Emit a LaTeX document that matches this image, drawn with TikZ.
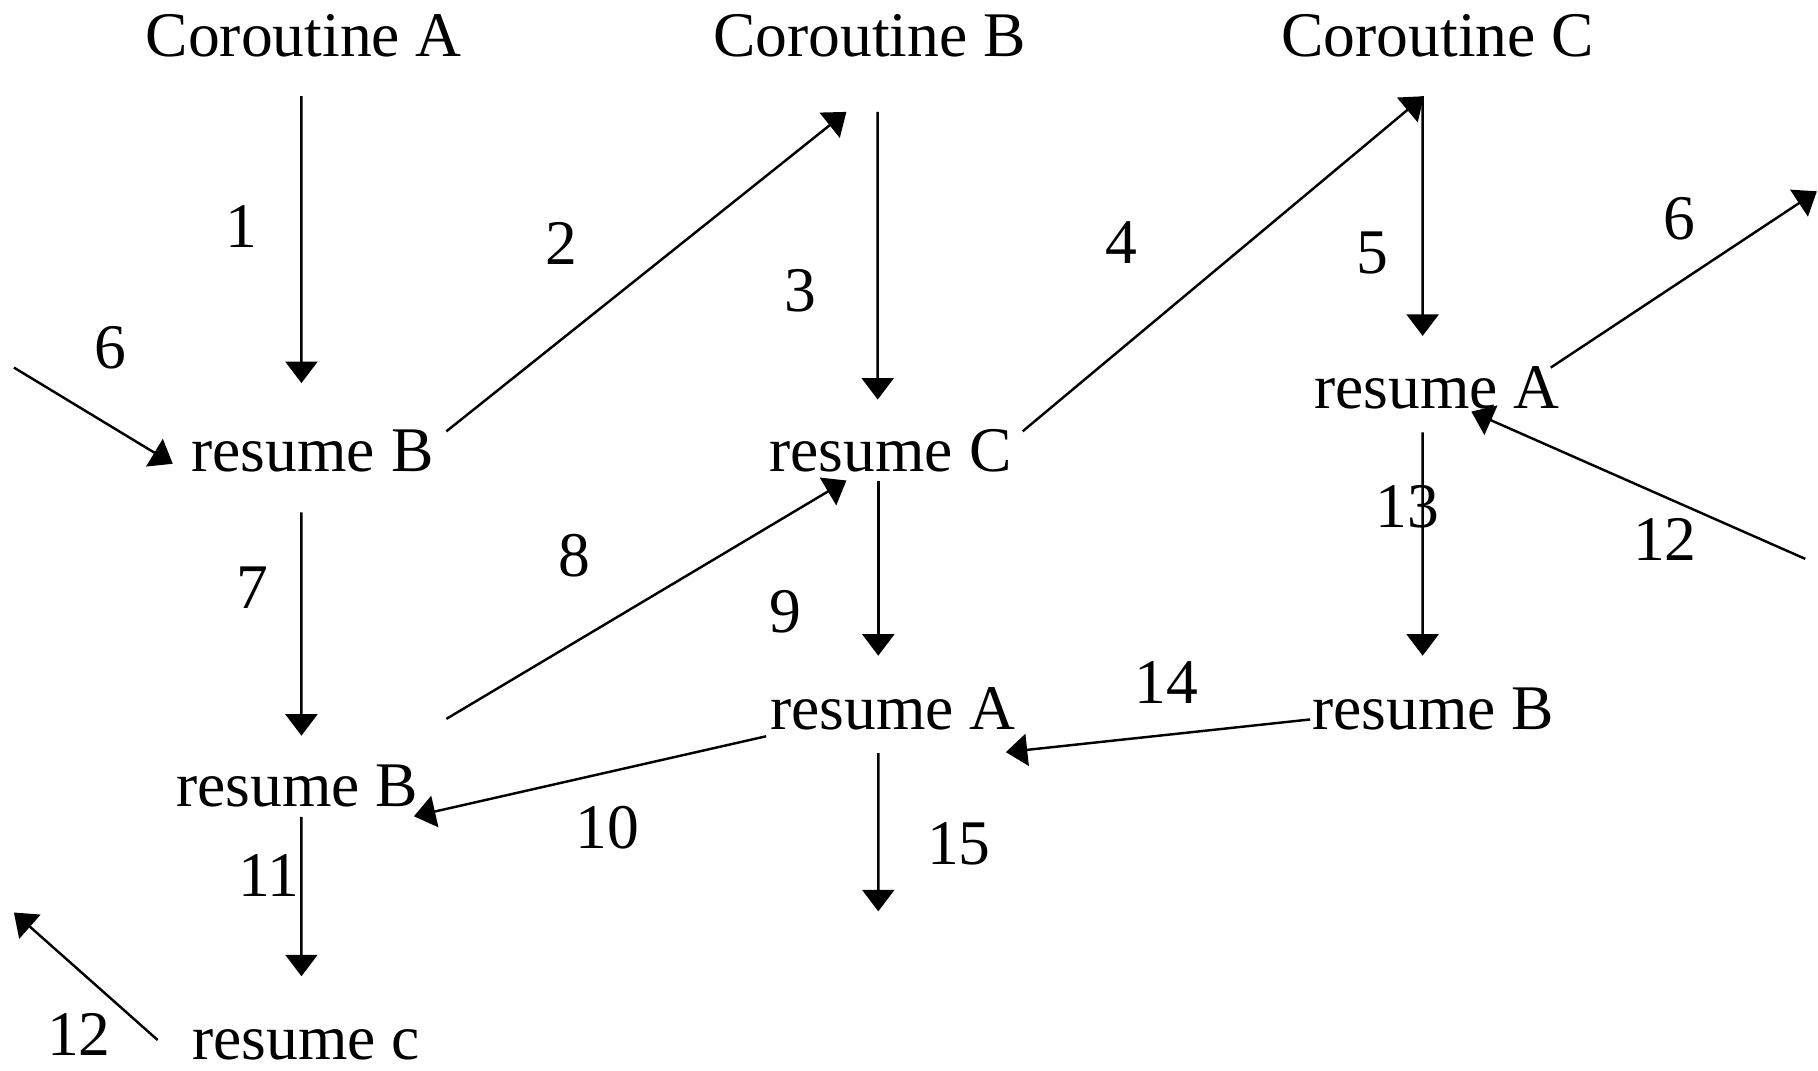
\documentclass[tikz,border=0pt]{standalone}
\usepackage{fontspec}
\setmainfont{Liberation Serif}
\usetikzlibrary{arrows.meta, calc}

\begin{document}
\begin{tikzpicture}[
    % Styles
    txt/.style={font=\fontsize{15.6}{18}\selectfont, inner sep=0pt, anchor=base},
    num/.style={font=\fontsize{15.6}{18}\selectfont, inner sep=0pt},
    arrow/.style={-{Triangle[length=1.85mm, width=2.75mm]}, line width=0.6pt},
]
\useasboundingbox (0,0) rectangle (15.68,-9.23);

% === COROUTINE HEADERS ===
\node[txt] (coA) at (2.62,-0.49) {Coroutine A};
\node[txt] (coB) at (7.50,-0.49) {Coroutine B};
\node[txt] (coC) at (12.40,-0.49) {Coroutine C};

% === RESUME CALLS ===
\node[txt] (resB1) at (2.695,-4.07) {resume B};
\node[txt] (resC) at (7.68,-4.07) {resume C};
\node[txt] (resA1) at (12.395,-3.52) {resume A};
\node[txt] (resB2) at (2.565,-6.96) {resume B};
\node[txt] (resA2) at (7.70,-6.29) {resume A};
\node[txt] (resB3) at (12.36,-6.29) {resume B};
\node[txt] (resc) at (2.64,-9.14) {resume c};

% Free ends at the margins
\coordinate (in6) at (0.12,-3.17);
\coordinate (out6) at (15.67,-1.65);
\coordinate (out12) at (0.12,-7.87);
\coordinate (in12) at (15.57,-4.82);
\coordinate (out15) at (7.575,-7.86);

% === STEP ARROWS ===
\draw[arrow] ($(coA.base)+(-0.02,-0.34)$) -- ($(resB1.base)+(-0.095,0.766)$);
\draw[arrow] ($(resB1.base)+(1.155,0.35)$) -- ($(coB.base)+(-0.20,-0.475)$);
\draw[arrow] ($(coB.base)+(0.07,-0.475)$) -- ($(resC.base)+(-0.11,0.624)$);
\draw[arrow] ($(resC.base)+(1.14,0.35)$) -- ($(coC.base)+(-0.12,-0.34)$);
\draw[arrow] ($(coC.base)+(-0.13,-0.34)$) -- ($(resA1.base)+(-0.125,0.623)$);
\draw[arrow] ($(resA1.base)+(0.98,0.35)$) -- (out6);
\draw[arrow] (in6) -- ($(resB1.base)+(-1.205,0.07)$);
\draw[arrow] ($(resB1.base)+(-0.095,-0.35)$) -- ($(resB2.base)+(0.035,0.615)$);
\draw[arrow] ($(resB2.base)+(1.285,0.76)$) -- ($(resC.base)+(-0.38,-0.074)$);
\draw[arrow] ($(resC.base)+(-0.105,-0.08)$) -- ($(resA2.base)+(-0.125,0.635)$);
\draw[arrow] ($(resA2.base)+(-1.092,-0.06)$) -- ($(resB2.base)+(1.005,-0.08)$);
\draw[arrow] ($(resB2.base)+(0.035,-0.086)$) -- ($(resc.base)+(-0.04,0.72)$);
\draw[arrow] ($(resc.base)+(-1.28,0.17)$) -- (out12);
\draw[arrow] (in12) -- ($(resA1.base)+(0.295,-0.03)$);
\draw[arrow] ($(resA1.base)+(-0.125,-0.21)$) -- ($(resB3.base)+(-0.09,0.635)$);
\draw[arrow] ($(resB3.base)+(-1.06,0.085)$) -- ($(resA2.base)+(0.975,-0.197)$);
\draw[arrow] ($(resA2.base)+(-0.125,-0.205)$) -- (out15);

% Step numbers
\node[num] (n1) at (2.08,-1.95) {1};
\node[num] (n2) at (4.84,-2.10) {2};
\node[num] (n3) at (6.90,-2.51) {3};
\node[num] (n4) at (9.67,-2.09) {4};
\node[num] (n5) at (11.84,-2.18) {5};
\node[num] (n6r) at (14.48,-1.89) {6};
\node[num] (n6l) at (0.95,-3.00) {6};
\node[num] (n7) at (2.18,-5.07) {7};
\node[num] (n8) at (4.95,-4.79) {8};
\node[num] (n9) at (6.77,-5.28) {9};
\node[num] (n10) at (5.24,-7.14) {10};
\node[num] (n11) at (2.32,-7.55) {11};
\node[num] (n12l) at (0.68,-8.92) {12};
\node[num] (n12r) at (14.36,-4.65) {12};
\node[num] (n13) at (12.14,-4.37) {13};
\node[num] (n14) at (10.06,-5.89) {14};
\node[num] (n15) at (8.27,-7.28) {15};

\end{tikzpicture}
\end{document}
